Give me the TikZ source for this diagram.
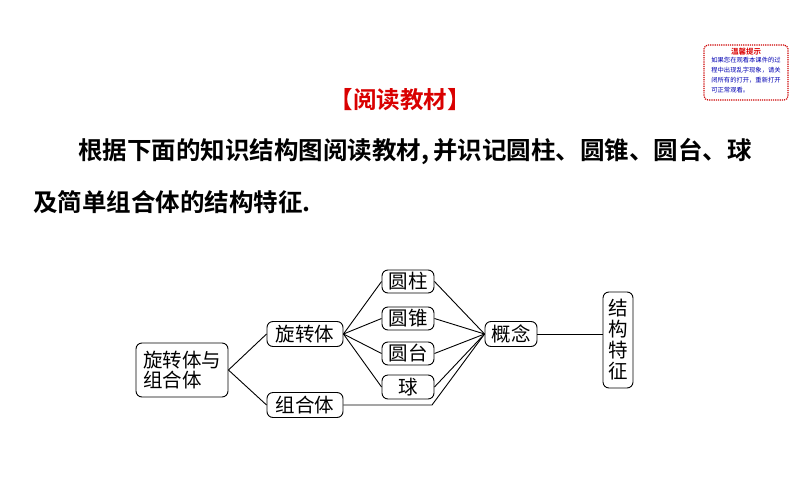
\documentclass[tikz,border=0pt]{standalone}
\usepackage{fontspec}
\setmainfont{Noto Sans CJK SC}
\newfontfamily\cjkb{Noto Sans CJK SC Bold}
\newfontfamily\cjk{Noto Sans CJK SC}
\begin{document}
\begin{tikzpicture}[x=1pt,y=-1pt,
  box/.style={draw,rounded corners=6pt,line width=0.9pt,inner sep=0pt,font=\cjk\fontsize{19.5}{22}\selectfont,align=center},
  link/.style={line width=0.9pt}]
\useasboundingbox (0,0) rectangle (800,498);
% tip box
\node[draw=red!80!black,densely dotted,line width=1.2pt,rounded corners=4pt,minimum width=84pt,minimum height=55pt,inner sep=0pt] (tip) at (746,72.5) {};
\node[text=red!85!black,font=\cjkb\fontsize{7.5}{8}\selectfont,inner sep=0pt] (tiptitle) at (746,52) {温馨提示};
\node[text=blue!70!black,font=\cjk\fontsize{6.3}{10}\selectfont,align=left,inner sep=0pt,anchor=north] (tiptext) at (746,57) {如果您在观看本课件的过\\程中出现乱字现象，请关\\闭所有的打开，重新打开\\可正常观看。};
% title
\node[text=red!85!black,font=\cjkb\fontsize{23.5}{26}\selectfont,inner sep=0pt] (title) at (400,100) {【阅读教材】};
% body text
\node[font=\cjkb\fontsize{24.5}{26}\selectfont,anchor=west,inner sep=0pt] (l1) at (78,152) {根据下面的知识结构图阅读教材,\,并识记圆柱、圆锥、圆台、球};
\node[font=\cjkb\fontsize{24.5}{26}\selectfont,anchor=west,inner sep=0pt] (l2) at (33,202) {及简单组合体的结构特征.};
% diagram
\node[box,minimum width=92pt,minimum height=54pt,align=left] (root) at (182,370) {旋转体与\\[-2pt]组合体};
\node[box,minimum width=76pt,minimum height=25pt] (xz) at (305,334) {旋转体};
\node[box,minimum width=76pt,minimum height=25pt] (zh) at (305,405) {组合体};
\node[box,minimum width=52pt,minimum height=23pt] (yz) at (408,281.5) {圆柱};
\node[box,minimum width=52pt,minimum height=23pt] (yzh) at (408,318.5) {圆锥};
\node[box,minimum width=52pt,minimum height=23pt] (yt) at (408,353.5) {圆台};
\node[box,minimum width=52pt,minimum height=24pt] (q) at (408,387) {球};
\node[box,minimum width=52pt,minimum height=25pt] (gn) at (511,334) {概念};
\node[box,minimum width=30pt,minimum height=96pt] (jg) at (618,340) {结\\[-1pt]构\\[-1pt]特\\[-1pt]征};
\coordinate (bend) at (432,405);
\draw[link] (root.east) -- (xz.west);
\draw[link] (root.east) -- (zh.west);
\foreach \n in {yz,yzh,yt,q}{
  \draw[link] (xz.east) -- (\n.west);
  \draw[link] (\n.east) -- (gn.west);
}
\draw[link] (zh.east) -- (bend) -- (gn.west);
\draw[link] (gn.east) -- (gn.east -| jg.west);
\end{tikzpicture}
\end{document}
